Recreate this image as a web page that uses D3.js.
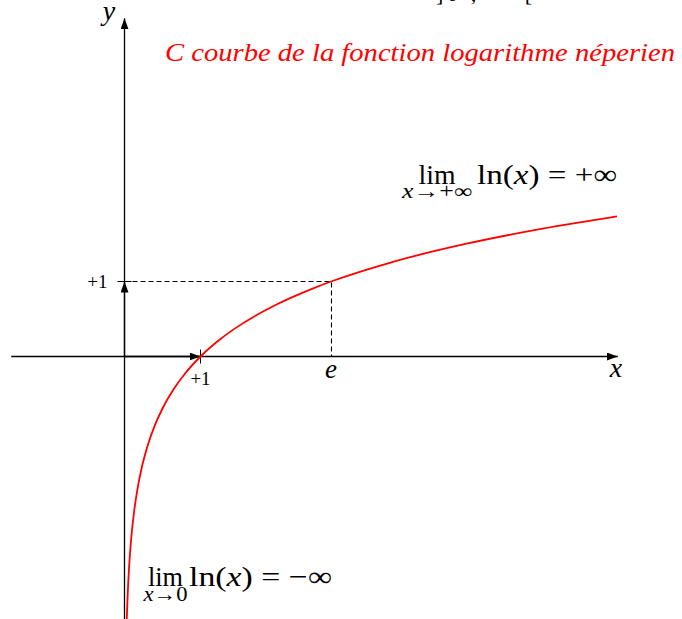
<!DOCTYPE html>
<html>
<head>
<meta charset="utf-8">
<script src="https://cdn.jsdelivr.net/npm/d3@7"></script>
<style>
  html, body { margin: 0; padding: 0; background: #fff; }
  svg { display: block; }
</style>
</head>
<body>
<div id="chart"></div>
<script>
// ---- data ----
const curveX = [0.03, 0.035, 0.04, 0.05, 0.06, 0.08, 0.1, 0.13, 0.17, 0.22, 0.3, 0.4, 0.5, 0.65, 0.8, 1, 1.25, 1.5, 2, 2.5, 2.718, 3.5, 4.5, 5.5, 6.48];
const curveY = [-3.507, -3.352, -3.219, -2.996, -2.813, -2.526, -2.303, -2.040, -1.772, -1.514, -1.204, -0.916, -0.693, -0.431, -0.223, 0, 0.223, 0.405, 0.693, 0.916, 1, 1.253, 1.504, 1.705, 1.869];
const xDomain = [-1.49, 6.49];
const yDomain = [-3.5, 4.51];
const unitTickX = [1];
const unitTickY = [1];
const eValue = [2.718];
const tickLabelX = ["+1"];
const tickLabelY = ["+1"];
const title = "C  courbe de la fonction logarithme néperien";

const FONT = '"Liberation Serif", "Times New Roman", serif';
const W = 682, H = 619;
const svg = d3.select("#chart").append("svg").attr("width", W).attr("height", H);

const x = d3.scaleLinear().domain([0, 1]).range([124.5, 200.5]);
const y = d3.scaleLinear().domain([0, 1]).range([356.5, 281.5]);

function txt(sel) { return sel.append("text").style("font-family", FONT); }

const defs = svg.append("defs");
defs.append("marker").attr("id", "arr").attr("viewBox", "0 0 11 8")
  .attr("refX", 11).attr("refY", 4).attr("markerWidth", 11).attr("markerHeight", 8)
  .attr("markerUnits", "userSpaceOnUse").attr("orient", "auto")
  .append("path").attr("d", "M0,0 L11,4 L0,8 Z").attr("fill", "#000");

// cut-off text at top
txt(svg).attr("x", 436).attr("y", 1).attr("font-size", 22).attr("fill", "#000")
  .attr("textLength", 96).attr("lengthAdjust", "spacing")
  .text("]0 ; +∞[");

// axes
svg.append("line").attr("x1", x(xDomain[0])).attr("x2", x(xDomain[1]))
  .attr("y1", y(0)).attr("y2", y(0)).attr("stroke", "#000").attr("stroke-width", 1.3)
  .attr("marker-end", "url(#arr)");
svg.append("line").attr("x1", x(0)).attr("x2", x(0))
  .attr("y1", H).attr("y2", y(yDomain[1]))
  .attr("stroke", "#000").attr("stroke-width", 1.3).attr("marker-end", "url(#arr)");

// dashed lines to e
svg.append("path")
  .attr("d", `M${x(0)},${y(1)} H${Math.round(x(eValue[0])) + 0.5} V${y(0)}`)
  .attr("fill", "none").attr("stroke", "#000").attr("stroke-width", 1.1)
  .attr("stroke-dasharray", "5,3");

// unit vectors
svg.append("line").attr("x1", x(0)).attr("x2", x(unitTickX[0]))
  .attr("y1", y(0)).attr("y2", y(0)).attr("stroke", "#000").attr("stroke-width", 1.3)
  .attr("marker-end", "url(#arr)");
svg.append("line").attr("x1", x(0)).attr("x2", x(0))
  .attr("y1", y(0)).attr("y2", y(unitTickY[0])).attr("stroke", "#000").attr("stroke-width", 1.3)
  .attr("marker-end", "url(#arr)");

// ticks
svg.selectAll(".tx").data(unitTickX).join("line")
  .attr("x1", d => x(d)).attr("x2", d => x(d))
  .attr("y1", y(0) - 7).attr("y2", y(0) + 7).attr("stroke", "#000").attr("stroke-width", 1);
svg.selectAll(".ty").data(unitTickY).join("line")
  .attr("x1", x(0) - 7).attr("x2", x(0) + 7)
  .attr("y1", d => y(d)).attr("y2", d => y(d)).attr("stroke", "#000").attr("stroke-width", 1);

// tick labels
tickLabelX.forEach((d, i) => {
  txt(svg).attr("x", x(unitTickX[i])).attr("y", y(0) + 28.5)
    .attr("text-anchor", "middle").attr("font-size", 19).text(d);
});
tickLabelY.forEach((d, i) => {
  txt(svg).attr("x", x(0) - 17).attr("y", y(unitTickY[i]) + 6.5)
    .attr("text-anchor", "end").attr("font-size", 19).text(d);
});

// e label
txt(svg).attr("x", x(eValue[0])).attr("y", y(0) + 21.5)
  .attr("text-anchor", "middle").attr("font-size", 27).attr("font-style", "italic").text("e");

// axis names
txt(svg).attr("x", 616).attr("y", y(0) + 20.5)
  .attr("text-anchor", "middle").attr("font-size", 28).attr("font-style", "italic").text("x");
txt(svg).attr("x", 109).attr("y", 20)
  .attr("text-anchor", "middle").attr("font-size", 28).attr("font-style", "italic").text("y");

// curve
const pts = curveX.map((v, i) => [v, curveY[i]]);
svg.append("path").datum(pts)
  .attr("d", d3.line().x(d => x(d[0])).y(d => y(d[1])).curve(d3.curveMonotoneX))
  .attr("fill", "none").attr("stroke", "#ff0000").attr("stroke-width", 1.8);

// title
txt(svg).attr("x", 165).attr("y", 61).attr("font-size", 26)
  .attr("font-style", "italic").attr("fill", "#ff0000")
  .attr("textLength", 510).attr("lengthAdjust", "spacingAndGlyphs")
  .text(title);

// limit formulas
function limit(cx, base, limW, rhsX, rhsW, subY, subW, sub, rhs) {
  txt(svg).attr("x", cx).attr("y", base).attr("font-size", 28).attr("text-anchor", "middle")
    .attr("textLength", limW).attr("lengthAdjust", "spacingAndGlyphs").text("lim");
  const r = txt(svg).attr("x", rhsX).attr("y", base).attr("font-size", 28)
    .attr("textLength", rhsW).attr("lengthAdjust", "spacingAndGlyphs");
  r.append("tspan").text("ln(");
  r.append("tspan").attr("font-style", "italic").text("x");
  r.append("tspan").text(") = " + rhs);
  const s = txt(svg).attr("x", cx).attr("y", subY).attr("font-size", 20).attr("text-anchor", "middle")
    .attr("textLength", subW).attr("lengthAdjust", "spacingAndGlyphs");
  s.append("tspan").attr("font-style", "italic").text("x");
  s.append("tspan").text(sub);
}
limit(437, 184, 37, 477, 140, 198, 70, "→+∞", "+∞");
limit(165.5, 586, 35, 189, 143, 601, 44, "→0", "−∞");
</script>
</body>
</html>
